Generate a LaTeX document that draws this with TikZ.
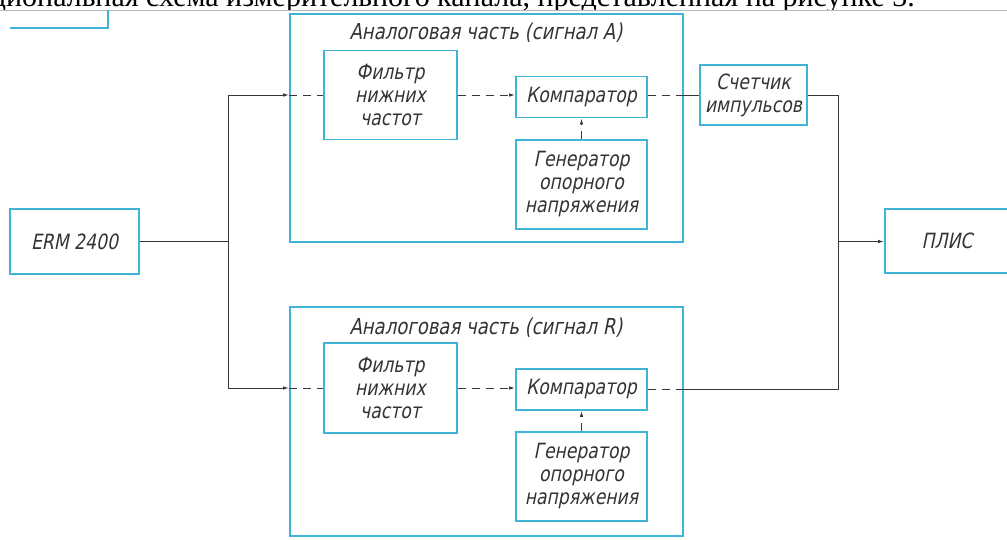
\documentclass[tikz,border=0pt]{standalone}
\usepackage{fontspec}
\setmainfont{Liberation Serif}
\newfontfamily\gost{DejaVu Sans}[FakeSlant=0.2,FakeStretch=0.82]
\usetikzlibrary{arrows.meta}
\definecolor{ramka}{RGB}{64,180,214}
\definecolor{liniya}{RGB}{55,55,55}

\begin{document}
\begin{tikzpicture}[x=1pt,y=-1pt,
    blk/.style={draw=ramka,line width=1.8pt,align=center,inner sep=0pt,
        text=black!80,font=\gost\fontsize{21}{23}\selectfont},
    ttl/.style={inner sep=0pt,text=black!80,font=\gost\fontsize{22}{24}\selectfont},
    sig/.style={draw=liniya,line width=1pt},
    pun/.style={draw=liniya,line width=1pt,dash pattern=on 8pt off 6pt},
    tip/.style={-{Latex[length=6pt,width=3.5pt]}}]

\useasboundingbox (0,0) rectangle (1007,539);

% ===== Шапка страницы =====
\begin{scope}
\clip (0,0) rectangle (1007,10);
\node[anchor=base east,inner sep=0pt,font=\fontsize{30}{32}\selectfont] (podpis) at (915,6)
    {Функциональная схема измерительного канала, представленная на рисунке 3.};
\end{scope}
\draw[gray!55,line width=0.8pt] (0,10) -- (1007,10);
\draw[ramka,line width=1.2pt] (108,10) -- (108,28) -- (10,28);

% ===== Блоки =====
\node[blk,minimum width=129pt,minimum height=65pt] (erm) at (74.5,241.5) {ERM 2400};

\node[blk,minimum width=393pt,minimum height=228pt] (anaA) at (486.5,128) {};
\node[ttl] (ttlA) at (486,33) {Аналоговая часть (сигнал A)};
\node[blk,minimum width=133pt,minimum height=89pt] (fltA) at (390.5,95) {Фильтр\\нижних\\частот};
\node[blk,minimum width=131pt,minimum height=41pt] (cmpA) at (581.5,97) {Компаратор};
\node[blk,minimum width=131pt,minimum height=89pt] (genA) at (581.5,184.5) {Генератор\\опорного\\напряжения};

\node[blk,minimum width=393pt,minimum height=229pt] (anaR) at (486.5,421.5) {};
\node[ttl] (ttlR) at (486,328) {Аналоговая часть (сигнал R)};
\node[blk,minimum width=133pt,minimum height=90pt] (fltR) at (390.5,388) {Фильтр\\нижних\\частот};
\node[blk,minimum width=131pt,minimum height=41pt] (cmpR) at (581.5,389.5) {Компаратор};
\node[blk,minimum width=131pt,minimum height=89pt] (genR) at (581.5,476.5) {Генератор\\опорного\\напряжения};

\node[blk,minimum width=107pt,minimum height=60pt] (cnt) at (753.5,95) {Счетчик\\импульсов};
\node[blk,minimum width=124pt,minimum height=64pt] (plis) at (947,241) {ПЛИС};

% ===== Узлы ветвления =====
\coordinate (vx1) at (228,241.5);
\coordinate (vx2) at (838,241.5);

% ===== Связи =====
\draw[sig] (erm.east) -- (vx1);
\draw[sig,tip] (vx1) |- (anaA.west |- fltA.center);
\draw[sig,tip] (vx1) |- (anaR.west |- fltR.center);
\draw[pun] (anaA.west |- fltA.center) -- (fltA.west);
\draw[pun] (anaR.west |- fltR.center) -- (fltR.west);

\draw[pun,tip] (fltA.east) -- (fltA.east -| cmpA.west);
\draw[pun,tip] (fltR.east) -- (fltR.east -| cmpR.west);
\draw[pun,tip] (genA.north) -- (cmpA.south);
\draw[pun,tip] (genR.north) -- (cmpR.south);

\draw[pun] (cmpA.east |- cnt.west) -- (anaA.east |- cnt.west);
\draw[sig] (anaA.east |- cnt.west) -- (cnt.west);
\draw[pun] (cmpR.east) -- (anaR.east |- cmpR.east);
\draw[sig] (anaR.east |- cmpR.east) -- (vx2 |- cmpR.east) -- (vx2);
\draw[sig] (cnt.east) -- (vx2 |- cnt.east) -- (vx2);
\draw[sig,tip] (vx2) -- (plis.west |- vx2);

\end{tikzpicture}
\end{document}
